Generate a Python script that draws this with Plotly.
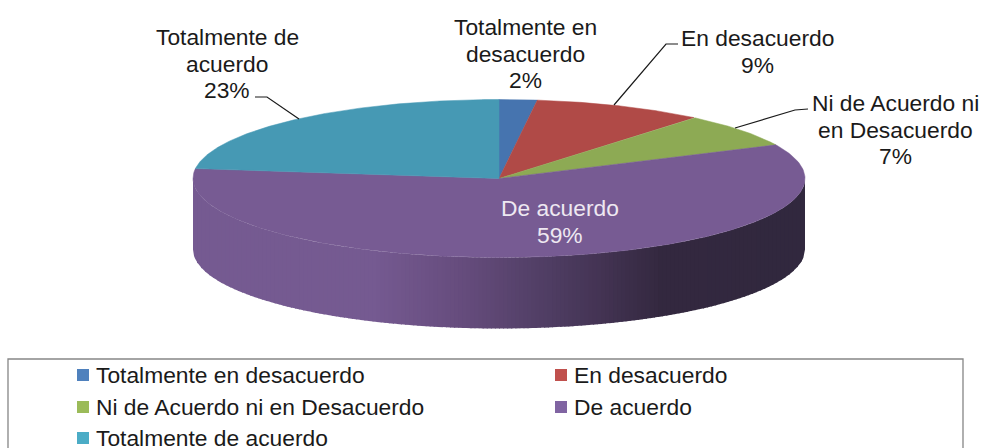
"""Encuesta de acuerdo: pastel 3D dibujado con trazos de Plotly."""

import numpy as np
import plotly.graph_objects as go

categories = [
    "Totalmente en desacuerdo",
    "En desacuerdo",
    "Ni de Acuerdo ni en Desacuerdo",
    "De acuerdo",
    "Totalmente de acuerdo",
]
values = [2, 9, 7, 59, 23]
slice_colors = ["#4674AF", "#B04A47", "#8DAA54", "#775B93", "#4699B4"]
legend_colors = ["#4F81BD", "#C0504D", "#9BBB59", "#8064A2", "#4BACC6"]

# Pie geometry, in page pixels (the axes map 1:1 on to the page)
CX, CY = 499, 178.5
RX, RY = 306, 79
DEPTH = 71
FONT = "Liberation Sans"
TEXT_SIZE = 22.8
LINE_GAP = 26.5


def ellipse_points(start_pct, end_pct):
    """Rim points between two cumulative percentages, clockwise from the top."""
    theta = np.radians(np.linspace(start_pct, end_pct, 200) * 3.6)
    return CX + RX * np.sin(theta), CY - RY * np.cos(theta)


def side_color(x):
    """Horizontal shading of the pie wall."""
    stops_x = [375, 460, 547, 600, 660, 805]
    stops = np.array([[117, 90, 145], [103, 77, 126], [80, 62, 100],
                      [68, 52, 84], [52, 41, 64], [49, 40, 62]])
    rgb = [np.interp(x, stops_x, stops[:, i]) for i in range(3)]
    return "rgb(%d,%d,%d)" % tuple(rgb)


fig = go.Figure()

# --- Pie wall ---
edges = np.linspace(CX - RX, CX + RX, 151)
for left, right in zip(edges[:-1], edges[1:]):
    xs = np.linspace(left, min(right + 1, CX + RX), 6)
    top = CY + RY * np.sqrt(np.clip(1 - ((xs - CX) / RX) ** 2, 0, 1))
    fig.add_trace(go.Scatter(
        x=np.concatenate([xs, xs[::-1]]),
        y=np.concatenate([top, (top + DEPTH)[::-1]]),
        mode="lines",
        fill="toself",
        fillcolor=side_color((left + right) / 2),
        line=dict(width=0),
        hoverinfo="skip",
        showlegend=False,
    ))

# --- Top face slices ---
cum = np.cumsum([0] + values)
for i, name in enumerate(categories):
    ex, ey = ellipse_points(cum[i], cum[i + 1])
    fig.add_trace(go.Scatter(
        x=np.concatenate([[CX], ex, [CX]]),
        y=np.concatenate([[CY], ey, [CY]]),
        mode="lines",
        fill="toself",
        fillcolor=slice_colors[i],
        line=dict(width=0.5, color=slice_colors[i]),
        name=name,
        hovertemplate=f"{name}: {values[i]}%<extra></extra>",
        showlegend=False,
    ))

# --- Data labels ---
label_lines = [
    (["Totalmente en", "desacuerdo", "2%"], 525, 27, "#1a1a1a"),
    (["En desacuerdo", "9%"], 757, 38, "#1a1a1a"),
    (["Ni de Acuerdo ni", "en Desacuerdo", "7%"], 895, 103, "#1a1a1a"),
    (["De acuerdo", "59%"], 560, 208, "#eee8f1"),
    (["Totalmente de", "acuerdo", "23%"], 227, 37, "#1a1a1a"),
]
annotations = []
for lines, x, y, color in label_lines:
    for n, text in enumerate(lines):
        annotations.append(dict(
            x=x, y=y + n * LINE_GAP, text=text, showarrow=False,
            xanchor="center", yanchor="middle",
            font=dict(family=FONT, size=TEXT_SIZE, color=color),
        ))

# --- Leader lines ---
shapes = []
for path in [
    "M 255 97 L 267 97 L 299 119",
    "M 678 44 L 666 44 L 614 105",
    "M 808 109 L 795 110 L 735 128",
]:
    shapes.append(dict(type="path", path=path, line=dict(color="#1a1a1a", width=1.2)))

# --- Legend box ---
shapes.append(dict(type="rect", x0=8, x1=963, y0=359, y1=452,
                   line=dict(color="#868686", width=1.3), fillcolor="rgba(0,0,0,0)"))
legend_slots = [(77, 375), (555, 375), (77, 407), (555, 407), (77, 438)]
for (x, y), name, color in zip(legend_slots, categories, legend_colors):
    shapes.append(dict(type="rect", x0=x, x1=x + 12, y0=y - 6, y1=y + 6,
                       fillcolor=color, line=dict(width=0)))
    annotations.append(dict(
        x=x + 17, y=y, text=name, showarrow=False,
        xanchor="left", yanchor="middle",
        font=dict(family=FONT, size=TEXT_SIZE, color="#1a1a1a"),
    ))

fig.update_layout(
    width=982,
    height=448,
    margin=dict(l=0, r=0, t=0, b=0),
    paper_bgcolor="white",
    plot_bgcolor="white",
    showlegend=False,
    xaxis=dict(range=[0, 982], visible=False, fixedrange=True),
    yaxis=dict(range=[448, 0], visible=False, fixedrange=True),
    shapes=shapes,
    annotations=annotations,
)

# the default page has a body margin that would push the figure 8px in
fig.write_html("out.html", config=dict(displayModeBar=False),
               post_script="document.body.style.margin='0';document.body.style.overflow='hidden';")
